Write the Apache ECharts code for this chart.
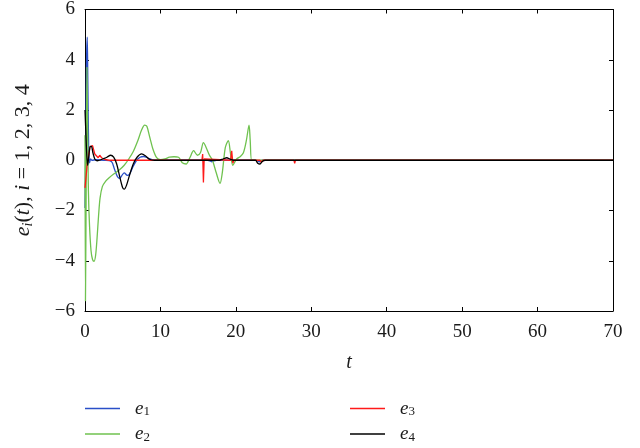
<!DOCTYPE html>
<html>
<head>
<meta charset="utf-8">
<script src="https://cdn.jsdelivr.net/npm/echarts@6/dist/echarts.min.js"></script>
<style>
  html, body { margin: 0; padding: 0; background: #fff; }
  #chart { width: 640px; height: 448px; }
</style>
</head>
<body>
<div id="chart"></div>
<script>
// Synchronisation errors e_i(t), i = 1..4, as [t, value] pairs
const e1 = [[0,-1.9],[0.1,0.8],[0.22,4.2],[0.3,4.9],[0.38,3.0],[0.48,0.6],[0.6,-0.1],[0.75,0.05],[0.9,0.0],[1.5,0.02],[2.5,0.0],[3.5,-0.05],[3.9,-0.35],[4.3,-0.65],[4.6,-0.72],[4.9,-0.6],[5.2,-0.5],[5.6,-0.6],[5.9,-0.55],[6.3,-0.3],[6.8,-0.02],[7.3,0.12],[7.8,0.15],[8.4,0.08],[9.2,0.0],[16.3,0],[16.8,-0.06],[17.4,0],[22.7,0],[23.1,-0.06],[23.5,0],[70,0]];

const e2 = [[0,1.0],[0.06,-5.6],[0.16,-1.0],[0.26,3.7],[0.34,1.5],[0.45,-1.2],[0.6,-2.6],[0.8,-3.6],[1.0,-3.95],[1.2,-4.02],[1.4,-3.8],[1.6,-3.1],[1.8,-2.2],[2.0,-1.5],[2.3,-1.05],[2.7,-0.85],[3.2,-0.7],[3.8,-0.55],[4.5,-0.4],[5.2,-0.2],[5.8,0.05],[6.4,0.35],[7.0,0.78],[7.5,1.2],[7.9,1.4],[8.2,1.35],[8.6,0.9],[9.0,0.45],[9.5,0.1],[10.0,0.02],[10.6,0.05],[11.2,0.12],[11.8,0.14],[12.4,0.12],[12.9,-0.1],[13.4,-0.15],[13.9,0.1],[14.4,0.38],[14.9,0.2],[15.3,0.3],[15.7,0.7],[16.0,0.55],[16.5,0.2],[16.9,0.0],[17.4,-0.5],[17.9,-0.92],[18.2,-0.5],[18.6,0.5],[19.0,0.78],[19.3,0.25],[19.6,-0.2],[20.1,0.05],[20.6,0.15],[21.0,0.3],[21.4,0.8],[21.75,1.4],[21.9,0.8],[22.1,0.0],[22.5,0],[70,0]];

const e3 = [[0,-1.1],[0.3,-0.15],[0.66,0.53],[1.0,0.58],[1.3,0.25],[1.75,0.1],[1.95,0.2],[2.2,0.1],[2.65,0.03],[3.2,0],[15.5,0],[15.6,0.25],[15.7,-0.88],[15.8,0.05],[15.9,0],[19.3,0],[19.45,0.38],[19.6,-0.12],[19.75,0],[23.2,0],[23.4,-0.08],[23.6,0],[27.7,0],[27.8,-0.12],[27.9,0],[38.4,0],[38.5,-0.05],[38.6,0],[70,0]];

const e4 = [[0,2.0],[0.1,1.2],[0.22,0.3],[0.35,-0.2],[0.5,0.15],[0.7,0.55],[0.85,0.55],[1.05,0.3],[1.3,0.05],[1.6,-0.02],[1.9,0.0],[2.4,0.06],[2.9,0.12],[3.4,0.2],[3.8,0.12],[4.2,-0.15],[4.6,-0.65],[5.0,-1.1],[5.2,-1.15],[5.5,-1.0],[5.9,-0.6],[6.4,-0.15],[6.9,0.12],[7.5,0.25],[8.0,0.18],[8.6,0.03],[9.2,0],[17.8,0],[18.3,0.05],[18.8,0.1],[19.2,0.05],[19.7,0],[22.6,0],[22.9,-0.12],[23.2,-0.15],[23.5,-0.05],[23.9,0],[70,0]];

const seriesNames = ['e1', 'e2', 'e3', 'e4'];
const seriesColors = ['#2a4fc8', '#6fc24f', '#ff1a1a', '#000000'];
const seriesData = [e1, e2, e3, e4];
const seriesSmooth = [0.3, 0.3, false, 0.3];

const xTicks = { min: 0, max: 70, interval: 10 };
const yTicks = { min: -6, max: 6, interval: 2 };

const FONT = 'Liberation Serif';
const INK = '#1a1a1a';

const chart = echarts.init(document.getElementById('chart'), null, { renderer: 'canvas' });

// shared look of the four frame sides
const frameAxis = {
  axisLine: { show: true, onZero: false, lineStyle: { color: '#000', width: 1 } },
  axisTick: { show: true, inside: true, length: 4, lineStyle: { color: '#000' } },
  splitLine: { show: false }
};

const legendRich = {
  g: { width: 10 },
  e: { fontFamily: FONT, fontStyle: 'italic', fontSize: 19, color: INK, lineHeight: 20, verticalAlign: 'middle' },
  s: { fontFamily: FONT, fontSize: 13, color: INK, lineHeight: 12, verticalAlign: 'bottom' }
};
const legendFormatter = name => '{g| }{e|e}{s|' + name.slice(1) + '}';

const legendBase = {
  orient: 'vertical',
  top: 399,
  height: 60,
  padding: 0,
  itemWidth: 35,
  itemHeight: 14,
  itemGap: 6,
  icon: 'path://M0,0 L35,0 L35,1.6 L0,1.6 Z',
  formatter: legendFormatter,
  textStyle: { rich: legendRich },
  selectedMode: false
};

chart.setOption({
  animation: false,
  backgroundColor: '#fff',
  textStyle: { fontFamily: FONT },
  grid: { left: 85, right: 27, top: 9, bottom: 137, containLabel: false },
  legend: [
    Object.assign({}, legendBase, { left: 85, data: ['e1', 'e2'] }),
    Object.assign({}, legendBase, { left: 350, data: ['e3', 'e4'] })
  ],
  xAxis: [
    Object.assign({
      type: 'value', position: 'bottom',
      min: xTicks.min, max: xTicks.max, interval: xTicks.interval,
      name: 't', nameLocation: 'middle', nameGap: 42,
      nameTextStyle: { fontFamily: FONT, fontStyle: 'italic', fontSize: 20, color: INK },
      axisLabel: { fontFamily: FONT, fontSize: 19, color: INK, margin: 12 }
    }, frameAxis),
    Object.assign({
      type: 'value', position: 'top',
      min: xTicks.min, max: xTicks.max, interval: xTicks.interval,
      axisLabel: { show: false }
    }, frameAxis)
  ],
  yAxis: [
    Object.assign({
      type: 'value', position: 'left',
      min: yTicks.min, max: yTicks.max, interval: yTicks.interval,
      name: '{i|e}{sub|i}{n|(}{i|t}{n|), }{i|i}{n| = 1, 2, 3, 4}',
      nameLocation: 'middle', nameGap: 50, nameRotate: 90,
      nameTextStyle: {
        rich: {
          i: { fontFamily: FONT, fontStyle: 'italic', fontSize: 22, color: INK, lineHeight: 24, verticalAlign: 'middle' },
          n: { fontFamily: FONT, fontSize: 22, color: INK, lineHeight: 24, verticalAlign: 'middle' },
          sub: { fontFamily: FONT, fontStyle: 'italic', fontSize: 14, color: INK, lineHeight: 14, verticalAlign: 'bottom' }
        }
      },
      axisLabel: {
        fontFamily: FONT, fontSize: 19, color: INK, margin: 10,
        formatter: v => (v < 0 ? '\u2212' + Math.abs(v) : String(v))
      }
    }, frameAxis),
    Object.assign({
      type: 'value', position: 'right',
      min: yTicks.min, max: yTicks.max, interval: yTicks.interval,
      axisLabel: { show: false }
    }, frameAxis)
  ],
  series: seriesNames.map((name, k) => ({
    name: name,
    type: 'line',
    data: seriesData[k],
    symbol: 'none',
    smooth: seriesSmooth[k],
    color: seriesColors[k],
    lineStyle: { color: seriesColors[k], width: 1.3 },
    z: 2 + k
  }))
});
</script>
</body>
</html>
